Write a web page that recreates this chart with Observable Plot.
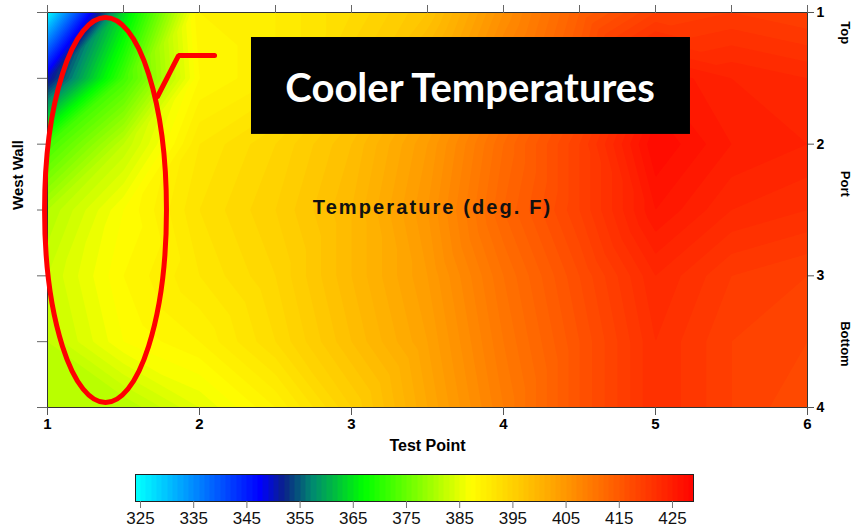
<!DOCTYPE html>
<html>
<head>
<meta charset="utf-8">
<script src="https://cdn.jsdelivr.net/npm/d3@7"></script>
<script src="https://cdn.jsdelivr.net/npm/@observablehq/plot@0.6"></script>
<style>
  body { margin: 0; background: #fff; }
  #chart { width: 860px; height: 529px; }
  #chart svg { display: block; }
</style>
</head>
<body>
<div id="chart"></div>
<script>
// Measurement grid: test points along the wall, positions from top to bottom
const testPoints = [1, 1.5, 2, 2.5, 3, 3.5, 4, 4.5, 5, 5.5, 6];
const wallPositions = [1, 1.5, 2, 2.5, 3, 3.5, 4];

// Temperature (deg. F), one row per wall position
const temperatures = [
  [325, 364, 389, 390, 393, 397, 406, 414, 419, 420, 419],
  [350, 372, 388, 390, 395, 401, 409, 416, 426, 424, 423],
  [372, 382, 391, 394, 398, 404, 412, 419, 428, 425, 424],
  [381, 387, 392, 395, 399, 405, 413, 419, 426, 423, 422],
  [383, 388, 391, 394, 399, 404, 411, 417, 423, 420, 419],
  [382, 387, 389, 393, 398, 403, 410, 416, 422, 419, 418],
  [381, 381, 385, 389, 395, 402, 409, 416, 422, 419, 417]
];

// Axis ticks
const xTicks = [1, 2, 3, 4, 5, 6];
const xMinorTicks = [1, 1.5, 2, 2.5, 3, 3.5, 4, 4.5, 5, 5.5, 6];
const yTicks = [1, 2, 3, 4];
const yMinorTicks = [1, 1.5, 2, 2.5, 3, 3.5, 4];
const colorTicks = [325, 335, 345, 355, 365, 375, 385, 395, 405, 415, 425];

// Rainbow colour ramp
const colorDomain = [324.06, 428.95];
const colorStops = [324, 347, 351.5, 357, 366.5, 386.5, 402, 429];
const colorRamp = ["#00ffff", "#0000ff", "#0a2288", "#008c6e", "#00ff00", "#ffff00", "#ffa500", "#ff0000"];
const bandLevels = d3.range(324, 430, 1);

// Side labels along the right axis
const sideLabels = [
  {label: "Top", y: 1.24},
  {label: "Port", y: 2.4},
  {label: "Bottom", y: 3.69}
];

// Annotation: highlighted cool region with call-out box
const focus = {cx: 1.385, cy: 2.504, rx: 0.401, ry: 1.462};
const callout = [
  {x: 1.724, y: 1.638},
  {x: 1.862, y: 1.327},
  {x: 2.099, y: 1.327}
];
const box = {x1: 2.342, x2: 5.23, y1: 1.19, y2: 1.926, cx: 3.78, cy: 1.58, text: "Cooler Temperatures"};
const titleLabel = {x: 3.533, y: 2.48, text: "Temperature (deg. F)"};

const grid = wallPositions.flatMap((w, i) =>
  testPoints.map((t, j) => ({testPoint: t, wall: w, temp: temperatures[i][j]}))
);

const colorScale = {type: "linear", domain: colorStops, range: colorRamp, clamp: true, interpolate: "rgb"};
const font = "Liberation Sans, Arial, sans-serif";

const main = Plot.plot({
  width: 860,
  height: 462,
  marginLeft: 47,
  marginRight: 53,
  marginTop: 12,
  marginBottom: 55,
  style: {fontFamily: font, fontSize: "15px", fontWeight: "bold", color: "#000", background: "transparent", overflow: "visible"},
  x: {domain: [1, 6]},
  y: {domain: [1, 4], reverse: true},
  color: colorScale,
  marks: [
    Plot.contour(grid, {
      x: "testPoint", y: "wall", fill: "temp",
      interpolate: "barycentric", thresholds: bandLevels,
      stroke: "none", pixelSize: 1
    }),
    Plot.frame({stroke: "#333"}),
    Plot.axisX(xTicks, {anchor: "bottom", tickSize: 8, tickPadding: 3, tickFormat: "d", label: null, stroke: "#555", fill: "#000", fontSize: 15}),
    Plot.axisX(xMinorTicks, {anchor: "top", tickSize: 8, tickFormat: () => "", label: null, stroke: "#666"}),
    Plot.axisY(yMinorTicks, {anchor: "left", tickSize: 10, tickFormat: () => "", label: null, stroke: "#666"}),
    Plot.axisY(yTicks, {anchor: "right", tickSize: 6, tickPadding: 3, tickFormat: "d", label: null, stroke: "#555", fill: "#000", fontSize: 14}),
    Plot.rect([box], {x1: "x1", x2: "x2", y1: "y1", y2: "y2", fill: "#000"}),
    Plot.text([box], {x: "cx", y: "cy", text: "text", fill: "#fff", fontSize: 40, fontWeight: "bold", fontFamily: "Lato, Open Sans, sans-serif"}),
    Plot.text([titleLabel], {x: "x", y: "y", text: "text", fill: "#111", fontSize: 20, fontWeight: "bold"}),
    Plot.line(callout, {x: "x", y: "y", stroke: "#ff0000", strokeWidth: 5, strokeLinejoin: "miter"}),
    Plot.text(["Test Point"], {frameAnchor: "bottom", dy: 43, fontSize: 16, fontWeight: "bold", fill: "#000"}),
    Plot.text(["West Wall"], {frameAnchor: "left", dx: -29, rotate: -90, fontSize: 15, fontWeight: "bold", fill: "#000"}),
    Plot.text(sideLabels, {y: "y", text: "label", frameAnchor: "right", dx: 38, rotate: 90, fontSize: 13, fontWeight: "bold", fill: "#000"})
  ]
});

// Red ellipse around the cool region along the west wall
{
  const sx = main.scale("x"), sy = main.scale("y");
  const cx = sx.apply(focus.cx), cy = sy.apply(focus.cy);
  const rx = sx.apply(focus.cx + focus.rx) - cx;
  const ry = sy.apply(focus.cy + focus.ry) - cy;
  d3.select(main).append("ellipse")
    .attr("cx", cx).attr("cy", cy)
    .attr("rx", Math.abs(rx)).attr("ry", Math.abs(ry))
    .attr("fill", "none").attr("stroke", "#ff0000").attr("stroke-width", 5);
  d3.select(main).selectAll("text")
    .filter(function () { return this.textContent === titleLabel.text; })
    .attr("letter-spacing", "2.1px");
}

// Colour bar
const legend = Plot.plot({
  width: 860,
  height: 67,
  marginLeft: 135,
  marginRight: 167,
  marginTop: 12,
  marginBottom: 28,
  style: {fontFamily: font, fontSize: "17px", color: "#000", background: "transparent", overflow: "visible"},
  x: {domain: colorDomain},
  y: {domain: [0, 1], axis: null},
  color: colorScale,
  marks: [
    Plot.raster({fill: (x, y) => Math.floor(x), x1: colorDomain[0], x2: colorDomain[1], y1: 0, y2: 1}),
    Plot.frame({stroke: "#222"}),
    Plot.axisX(colorTicks, {anchor: "bottom", tickSize: 7, tickPadding: 3, label: null, stroke: "#777", fill: "#111", fontSize: 17})
  ]
});

const chart = document.getElementById("chart");
chart.appendChild(main);
chart.appendChild(legend);
</script>
</body>
</html>
